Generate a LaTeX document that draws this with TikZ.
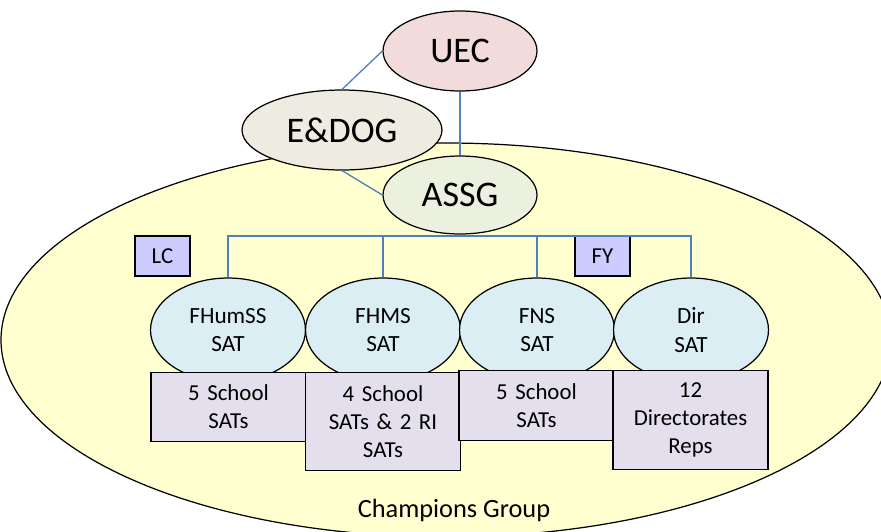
\documentclass[tikz,border=0pt]{standalone}
\usepackage{fontspec}
\setmainfont{Carlito}
\usetikzlibrary{positioning, shapes.geometric, calc}
\definecolor{cline}{HTML}{4F81BD}
\definecolor{cyellow}{HTML}{FFFFD0}
\definecolor{cpink}{HTML}{F2DCDB}
\definecolor{cstone}{HTML}{EEECE1}
\definecolor{cgreen}{HTML}{EBF1DE}
\definecolor{caqua}{HTML}{DAEEF3}
\definecolor{cviolet}{HTML}{CCCCFF}
\definecolor{clilac}{HTML}{E4DFEC}
\tikzset{
  every picture/.style={line width=0.7pt},
  bigoval/.style={ellipse, draw=black, fill=#1, inner sep=0pt, minimum width=3.08cm, minimum height=1.6cm,
    font=\fontsize{20.5}{24}\selectfont},
  satoval/.style={ellipse, draw=black, fill=caqua, inner sep=0pt, minimum width=3.1cm, minimum height=2.08cm,
    align=center, font=\fontsize{13.2}{16.4}\selectfont},
  tag/.style={draw=black, fill=cviolet, inner sep=0pt, minimum width=1.1cm, minimum height=0.8cm,
    font=\fontsize{13}{15}\selectfont},
  unitbox/.style={draw=black, fill=clilac, anchor=north, inner sep=0pt, minimum width=3.1cm, text width=3.1cm,
    align=center, font=\fontsize{13}{15.9}\selectfont},
  link/.style={draw=cline, line width=0.75pt},
}
\begin{document}
\begin{tikzpicture}[x=0.02cm, y=-0.02cm]
  \useasboundingbox (0,0) rectangle (881,531);
  % champions group background
  \begin{scope}
    \clip (0,0) rectangle (881,531);
    \draw[fill=cyellow] (446,340) ellipse [x radius=445, y radius=197];
  \end{scope}
  \node at (454,510) {\fontsize{15}{18}\selectfont Champions Group};
  % top level
  \node[bigoval=cpink] (uec) at (460,51) {UEC};
  \node[bigoval=cstone, minimum width=4cm] (edog) at (342,130) {E\&DOG};
  \node[bigoval=cgreen, minimum height=1.56cm] (assg) at (460,195) {ASSG};
  \draw[link] (uec.west) -- (edog.north);
  \draw[link] (edog.south) -- (assg.west);
  \draw[link] (uec.south) -- (assg.north);
  % tags
  \node[tag] (lc) at (162.5,256) {LC};
  \node[tag] (fy) at (602.5,256) {FY};
  % SATs
  \node[satoval] (fhum) at (228,330) {FHumSS\\SAT};
  \node[satoval] (fhms) at (383,330) {FHMS\\SAT};
  \node[satoval] (fns) at (537,330) {FNS\\SAT};
  \node[satoval] (dir) at (691,330) {Dir\\SAT};
  \coordinate (bus) at (460,236);
  \draw[link] (assg.south) -- (bus);
  \draw[link] (fhum.north) |- (bus) -| (dir.north);
  \draw[link] (fhms.north) -- (fhms.north |- bus);
  \draw[link] (fns.north) -- (fns.north |- bus);
  % member boxes
  \node[unitbox, minimum height=1.38cm] (sch1) at (228.5,372) {5 School\\SATs};
  \node[unitbox, minimum height=1.96cm] (sch2) at (383,372) {4 School\\SATs \& 2 RI\\SATs};
  \node[unitbox, minimum height=1.4cm] (sch3) at (536.5,370) {5 School\\SATs};
  \node[unitbox, minimum height=1.98cm] (reps) at (690.5,370) {12\\Directorates\\Reps};
\end{tikzpicture}
\end{document}
